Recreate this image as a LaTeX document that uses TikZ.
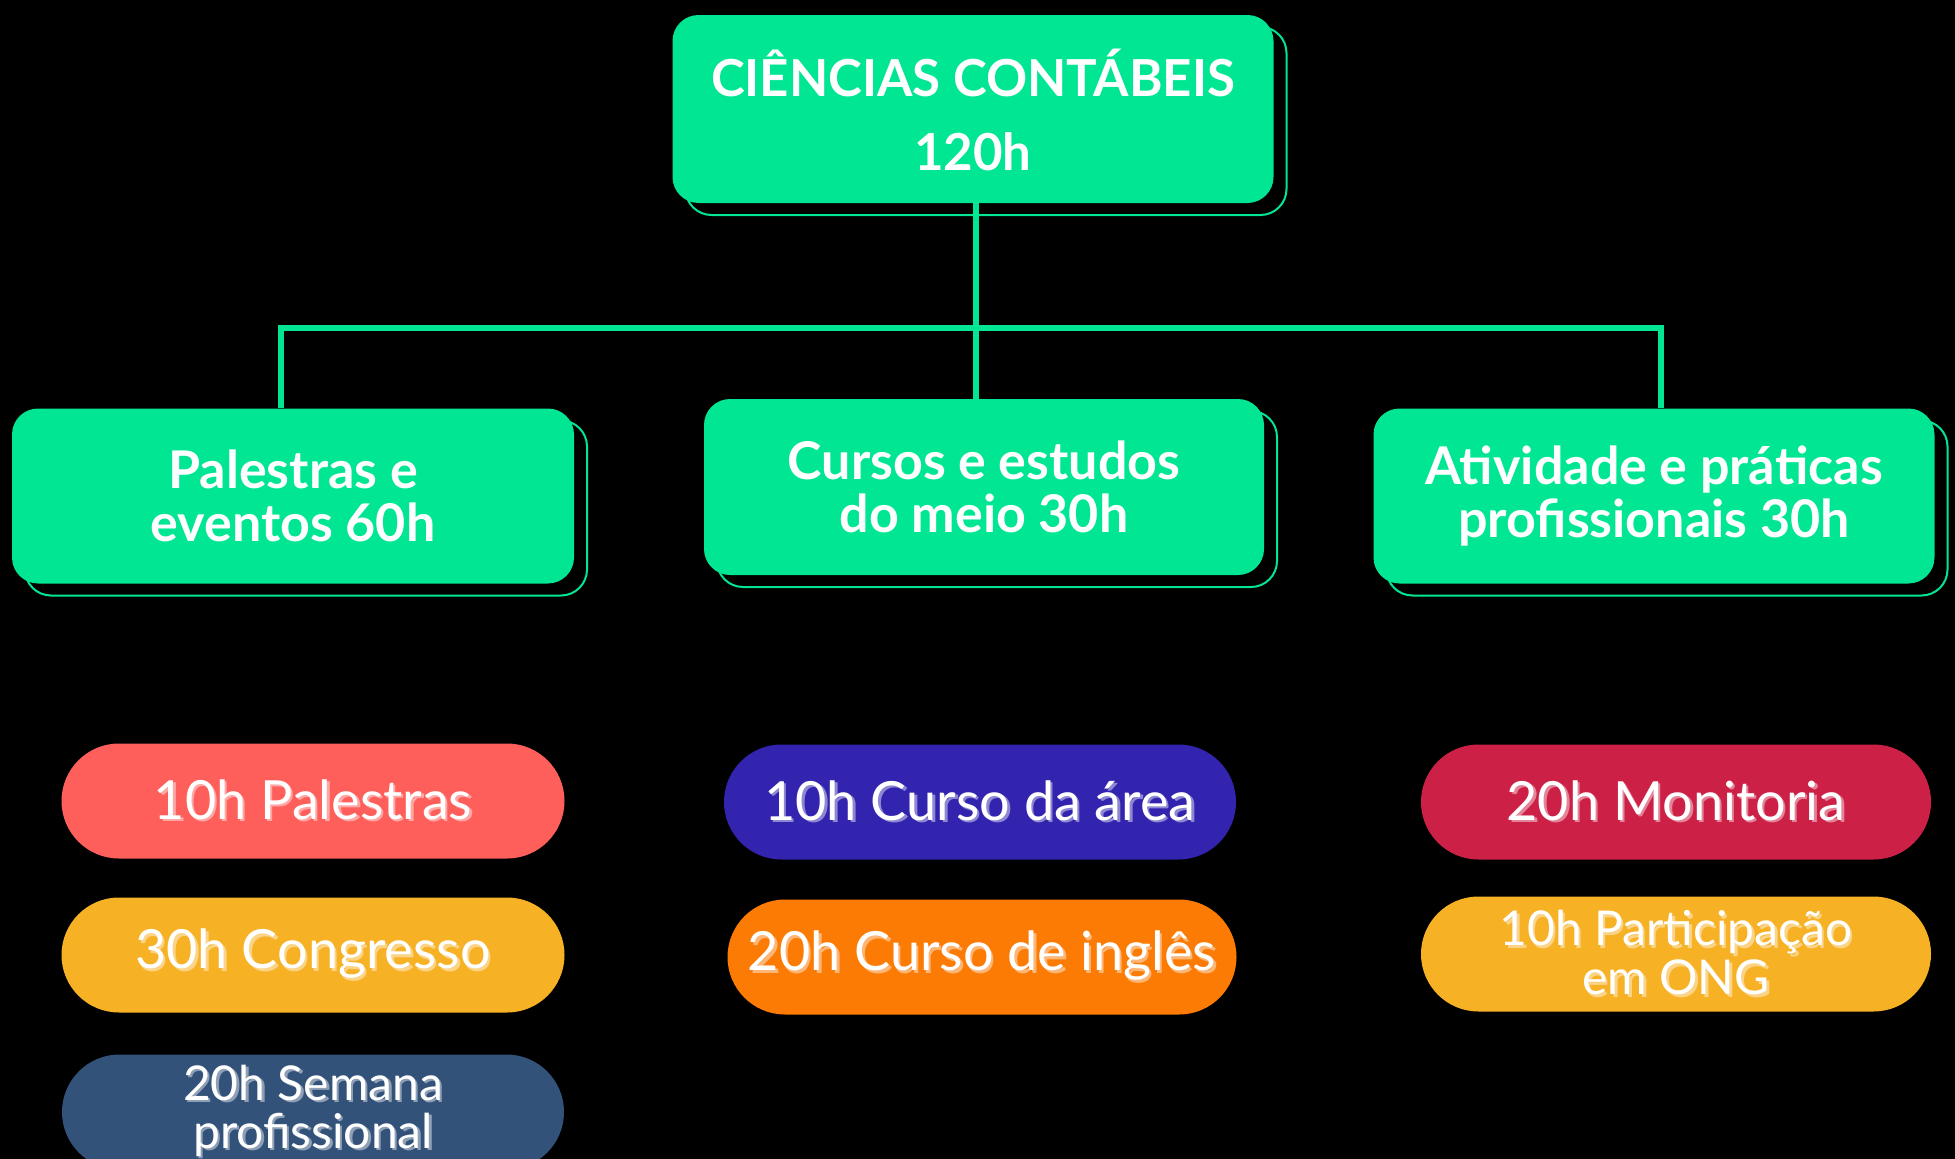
\documentclass[tikz,border=0pt]{standalone}
\usepackage{fontspec}
\setmainfont{Lato}
\usetikzlibrary{shapes.misc,shadows}
\definecolor{mint}{HTML}{00E693}
\definecolor{coral}{HTML}{FE5F5B}
\definecolor{amber}{HTML}{F7B125}
\definecolor{slate}{HTML}{33527A}
\definecolor{indigo}{HTML}{3224AE}
\definecolor{tangerine}{HTML}{FB7B04}
\definecolor{crimson}{HTML}{CC2046}
% text with a light copy behind it
\newcommand{\shtext}[2]{\makebox[0pt][l]{\hspace{2.5pt}\raisebox{-2.5pt}{\textcolor{#1!55!white}{#2}}}#2}
\tikzset{
    headbox/.style={fill=mint, rounded corners=26pt, text=white, align=center, inner sep=0pt,
        font=\bfseries\fontsize{52}{53}\selectfont,
        general shadow={shadow xshift=13pt, shadow yshift=-12pt, draw=mint, line width=2pt}},
    pill/.style={rounded rectangle, fill=#1, text=white, align=center, inner sep=0pt,
        minimum height=115pt, font=\fontsize{54}{55}\selectfont},
    link/.style={draw=mint, line width=6pt}
}
\begin{document}
\begin{tikzpicture}[x=1pt, y=-1pt]
    \useasboundingbox (0,0) rectangle (1955,1159);
    \clip (0,0) rectangle (1955,1159);
    \fill[black] (0,0) rectangle (1955,1159);
    %main boxes
    \node[headbox, minimum width=601pt, minimum height=188pt, font=\bfseries\fontsize{51}{74}\selectfont] (top) at (973,109) {\rule{0pt}{50pt}CIÊNCIAS CONTÁBEIS\\120h};
    \node[headbox, minimum width=562pt, minimum height=175pt] (left) at (293,496) {Palestras e\\eventos 60h};
    \node[headbox, minimum width=560pt, minimum height=176pt] (mid) at (984,487) {Cursos e estudos\\do meio 30h};
    \node[headbox, minimum width=561pt, minimum height=175pt] (right) at (1654,496) {Atividade e práticas\\profissionais 30h};
    %draw lines
    \coordinate (hub) at (976,328);
    \draw[link] (top.south -| hub) -- (hub |- mid.north);
    \draw[link] ([xshift=-12pt]left.north) |- (hub) -| ([xshift=7pt]right.north);
    %pills
    \node[pill=coral, minimum width=503pt] (p1) at (313,801) {\shtext{coral}{10h Palestras}};
    \node[pill=amber, minimum width=503pt] (p2) at (313,955) {\shtext{amber}{30h Congresso}};
    \node[pill=slate, minimum width=502pt, font=\fontsize{48}{48}\selectfont] (p3) at (313,1112) {\shtext{slate}{20h Semana}\\\shtext{slate}{profissional}};
    \node[pill=indigo, minimum width=512pt] (p4) at (980,802) {\shtext{indigo}{10h Curso da área}};
    \node[pill=tangerine, minimum width=509pt] (p5) at (982,957) {\shtext{tangerine}{20h Curso de inglês}};
    \node[pill=crimson, minimum width=510pt] (p6) at (1676,802) {\shtext{crimson}{20h Monitoria}};
    \node[pill=amber, minimum width=510pt, font=\fontsize{48}{49}\selectfont] (p7) at (1676,954) {\shtext{amber}{10h Participação}\\\shtext{amber}{em ONG}};
\end{tikzpicture}
\end{document}
